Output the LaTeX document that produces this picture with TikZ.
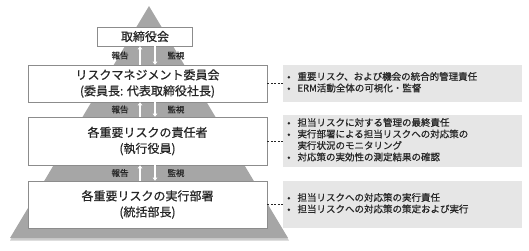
\documentclass[tikz,border=0pt]{standalone}
\usepackage{fontspec}
\setmainfont[FakeBold=0.6,AutoFakeBold=0.6]{Noto Sans CJK JP}
\usetikzlibrary{arrows.meta}

\definecolor{pyrgray}{HTML}{A6A6A6}
\definecolor{panelgray}{HTML}{E6E6E6}
\definecolor{linegray}{HTML}{8C8C8C}
\definecolor{txt}{HTML}{262626}

\begin{document}
\begin{tikzpicture}[x=1pt,y=-1pt,line width=0.6pt,
  box/.style={draw=linegray,fill=white,text=txt,align=center,inner sep=0pt,
    font=\fontsize{12}{16}\selectfont\bfseries},
  panel/.style={fill=panelgray,text=txt,anchor=west,align=left,inner xsep=4pt,
    text width=231pt,minimum height=#1,font=\fontsize{9.5}{11.5}\selectfont\bfseries},
  flow/.style={white,line width=1.1pt,-{Triangle[length=3pt,width=4.5pt]}},
  tag/.style={text=txt,font=\fontsize{8.5}{8.5}\selectfont\bfseries,inner sep=0pt},
  link/.style={dashed,line width=0.5pt,dash pattern=on 2pt off 1.5pt,txt}]
  \useasboundingbox (0,0) rectangle (529,250);
  % pyramid behind the boxes
  \fill[gray!40] (149,8) -- (289,240.5) -- (10,240.5) -- cycle;
  \fill[pyrgray] (149,6) -- (288,238) -- (10,238) -- cycle;

  \node[box,minimum width=95pt,minimum height=19pt] (board) at (145,36.5) {取締役会};
  \node[box,minimum width=239pt,minimum height=37pt] (cmt) at (147.5,83.5)
    {リスクマネジメント委員会\\(委員長: 代表取締役社長)};
  \node[box,minimum width=239pt,minimum height=48pt] (owner) at (147.5,141)
    {各重要リスクの責任者\\(執行役員)};
  \node[box,minimum width=239pt,minimum height=47pt] (dept) at (147.5,204.5)
    {各重要リスクの実行部署\\(統括部長)};

  \coordinate (upx) at (140,0);
  \coordinate (dnx) at (155,0);
  \foreach \lo/\hi in {cmt/board,owner/cmt,dept/owner}{
    \draw[flow] (\lo.north -| upx) -- (\hi.south -| upx);
    \draw[flow] (\hi.south -| dnx) -- (\lo.north -| dnx);
    \path (\hi.south) -- (\lo.north) coordinate[pos=0.5] (mid);
    \node[tag] at (mid -| 120,0) {報告};
    \node[tag] at (mid -| 176,0) {監視};
  }

  \node[panel=37pt] (p1) at (283,83.5) {\begin{tabular}{@{}l@{\hspace{7pt}}l@{}}
    • & 重要リスク、および機会の統合的管理責任\\
    • & ERM活動全体の可視化・監督
  \end{tabular}};
  \node[panel=48pt] (p2) at (283,141) {\begin{tabular}{@{}l@{\hspace{7pt}}l@{}}
    • & 担当リスクに対する管理の最終責任\\
    • & 実行部署による担当リスクへの対応策の\\
      & 実行状況のモニタリング\\
    • & 対応策の実効性の測定結果の確認
  \end{tabular}};
  \node[panel=47pt] (p3) at (283,204.5) {\begin{tabular}{@{}l@{\hspace{7pt}}l@{}}
    • & 担当リスクへの対応策の実行責任\\
    • & 担当リスクへの対応策の策定および実行
  \end{tabular}};

  \draw[link] (cmt.east) -- (p1.west);
  \draw[link] (owner.east) -- (p2.west);
  \draw[link] (dept.east) -- (p3.west);
\end{tikzpicture}
\end{document}
